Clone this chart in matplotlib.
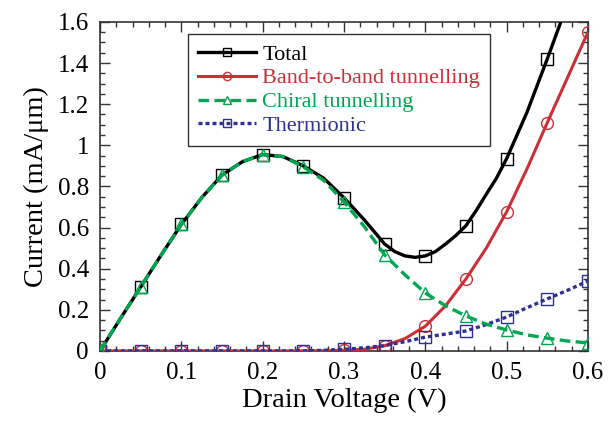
import matplotlib
matplotlib.use('Agg')

import matplotlib.pyplot as plt
from matplotlib.ticker import MultipleLocator

# Drain voltage (V), read every 0.025 V
vd = [0.0, 0.025, 0.05, 0.075, 0.1, 0.125, 0.15, 0.175, 0.2, 0.225, 0.25,
      0.275, 0.3, 0.325, 0.35, 0.375, 0.4, 0.425, 0.45, 0.475, 0.5, 0.525,
      0.55, 0.575, 0.6]
# the total current is read more finely around its minimum
vd_total = [0.0, 0.025, 0.05, 0.075, 0.1, 0.125, 0.15, 0.175, 0.2, 0.225,
            0.25, 0.275, 0.3, 0.325, 0.35, 0.3625, 0.375, 0.3875, 0.4, 0.4125,
            0.425, 0.4375, 0.45, 0.4625, 0.475, 0.4875, 0.5, 0.525, 0.55,
            0.575, 0.6]
# marker positions (V)
vd_marks = [0.0, 0.05, 0.1, 0.15, 0.2, 0.25, 0.3, 0.35, 0.4, 0.45, 0.5,
            0.55, 0.6]

# Currents (mA/um)
total = [0.0, 0.157, 0.311, 0.465, 0.615, 0.745, 0.855, 0.92, 0.955, 0.945,
         0.90, 0.84, 0.745, 0.637, 0.52, 0.483, 0.462, 0.455, 0.462, 0.483,
         0.52, 0.561, 0.609, 0.682, 0.762, 0.84, 0.935, 1.16, 1.42, 1.69, 1.93]
chiral = [0.0, 0.157, 0.311, 0.465, 0.615, 0.745, 0.855, 0.92, 0.955, 0.945,
          0.895, 0.83, 0.725, 0.605, 0.467, 0.37, 0.282, 0.219, 0.17, 0.13,
          0.102, 0.078, 0.062, 0.048, 0.039]
btbt = [0.0, 0.0, 0.0, 0.0, 0.0, 0.0, 0.0, 0.0, 0.0, 0.0,
        0.0, 0.001, 0.003, 0.008, 0.025, 0.06, 0.12, 0.22, 0.35, 0.50,
        0.676, 0.885, 1.11, 1.33, 1.55]
thermionic = [0.0, 0.0, 0.0, 0.0, 0.0, 0.0, 0.0, 0.0, 0.0, 0.0,
              0.0, 0.003, 0.008, 0.015, 0.026, 0.045, 0.067, 0.082, 0.097, 0.128,
              0.165, 0.21, 0.253, 0.295, 0.34]

x_ticks = [0, 0.1, 0.2, 0.3, 0.4, 0.5, 0.6]
x_labels = ['0', '0.1', '0.2', '0.3', '0.4', '0.5', '0.6']
y_ticks = [0, 0.2, 0.4, 0.6, 0.8, 1.0, 1.2, 1.4, 1.6]
y_labels = ['0', '0.2', '0.4', '0.6', '0.8', '1', '1.2', '1.4', '1.6']

plt.rcParams['font.family'] = ['Liberation Serif', 'DejaVu Serif']

fig = plt.figure(figsize=(6.08, 4.29), dpi=100)
ax = fig.add_axes([0.1645, 0.182, 0.8025, 0.767])

mark_idx = [vd.index(v) for v in vd_marks]
mark_idx_total = [vd_total.index(v) for v in vd_marks]
common = dict(markersize=8.5, markerfacecolor='none', markeredgewidth=1.0)

ax.plot(vd_total, total, color='black', linewidth=2.4, linestyle='-',
        marker='s', markeredgecolor='black', markevery=mark_idx_total,
        label='Total', zorder=3, **common)
ax.plot(vd, btbt, color='#cc2f36', linewidth=2.2, linestyle='-',
        marker='o', markeredgecolor='#cc2f36', markevery=mark_idx,
        label='Band-to-band tunnelling', zorder=4, **common)
ax.plot(vd, chiral, color='#00a651', linewidth=2.4, linestyle=(0, (3.2, 1.6)),
        marker='^', markeredgecolor='#00a651', markevery=mark_idx,
        label='Chiral tunnelling', zorder=5, **common)
ax.plot(vd, thermionic, color='#2e3192', linewidth=2.4, linestyle=(0, (1.2, 0.9)),
        marker='s', markeredgecolor='#2e3192', markevery=mark_idx,
        label='Thermionic', zorder=4, **common)

ax.set_xlim(0, 0.6)
ax.set_ylim(0, 1.6)
ax.set_xticks(x_ticks)
ax.set_xticklabels(x_labels)
ax.set_yticks(y_ticks)
ax.set_yticklabels(y_labels)
ax.xaxis.set_minor_locator(MultipleLocator(0.02))
ax.yaxis.set_minor_locator(MultipleLocator(0.05))
ax.tick_params(which='both', direction='in', top=True, right=True,
               labelsize=18, width=1.0, color='#333333')
ax.tick_params(which='major', length=7, pad=8)
ax.tick_params(which='minor', length=3.5)
for spine in ax.spines.values():
    spine.set_linewidth(1.2)
    spine.set_color('#333333')

ax.set_xlabel('Drain Voltage (V)', fontsize=20.5, labelpad=3)
ax.set_ylabel('Current (mA/μm)', fontsize=20.5, labelpad=6)

leg = ax.legend(loc='upper left', bbox_to_anchor=(0.18, 0.963), fontsize=16,
                frameon=True, fancybox=False, edgecolor='black',
                handlelength=2.6, handletextpad=0.3, borderpad=0.45,
                labelspacing=0.15, borderaxespad=0.0, markerscale=0.7)
leg.get_frame().set_linewidth(1.0)
colors = ['black', '#cc2f36', '#00a651', '#2e3192']
for text, c in zip(leg.get_texts(), colors):
    text.set_color(c)

fig.savefig('out.png', dpi=100)
plt.close(fig)
